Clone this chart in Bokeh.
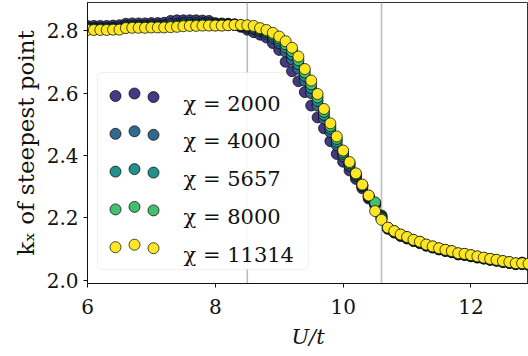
from bokeh.plotting import figure
from bokeh.models import Range1d, Span, BoxAnnotation, Label, FixedTicker, PrintfTickFormatter
from bokeh.embed import file_html
from bokeh.resources import INLINE

# ---------------- data ----------------
U = [6.0, 6.1, 6.2, 6.3, 6.4, 6.5, 6.6, 6.7, 6.8, 6.9,
     7.0, 7.1, 7.2, 7.3, 7.4, 7.5, 7.6, 7.7, 7.8, 7.9,
     8.0, 8.1, 8.2, 8.3, 8.4, 8.5, 8.6, 8.7, 8.8, 8.9,
     9.0, 9.1, 9.2, 9.3, 9.4, 9.5, 9.6, 9.7, 9.8, 9.9,
     10.0, 10.1, 10.2, 10.3, 10.4, 10.5, 10.6, 10.7, 10.8, 10.9,
     11.0, 11.1, 11.2, 11.3, 11.4, 11.5, 11.6, 11.7, 11.8, 11.9,
     12.0, 12.1, 12.2, 12.3, 12.4, 12.5, 12.6, 12.7, 12.8, 12.9]

kx_2000 = [2.815, 2.815, 2.815, 2.815, 2.816, 2.817, 2.822, 2.823, 2.823, 2.823,
           2.824, 2.824, 2.825, 2.831, 2.833, 2.833, 2.833, 2.833, 2.832, 2.831,
           2.824, 2.823, 2.822, 2.820, 2.812, 2.803, 2.795, 2.787, 2.778, 2.760,
           2.738, 2.700, 2.670, 2.638, 2.603, 2.560, 2.522, 2.487, 2.446, 2.405,
           2.380, 2.352, 2.325, 2.295, 2.262, 2.241, 2.208, 2.165, 2.153, 2.142,
           2.134, 2.126, 2.119, 2.111, 2.105, 2.099, 2.094, 2.090, 2.083, 2.081,
           2.077, 2.073, 2.070, 2.066, 2.063, 2.059, 2.056, 2.053, 2.057, 2.051]

kx_4000 = [2.808, 2.808, 2.808, 2.808, 2.809, 2.810, 2.815, 2.816, 2.816, 2.816,
           2.817, 2.817, 2.817, 2.821, 2.822, 2.824, 2.824, 2.824, 2.824, 2.824,
           2.820, 2.820, 2.820, 2.819, 2.815, 2.810, 2.805, 2.798, 2.790, 2.777,
           2.760, 2.733, 2.708, 2.678, 2.640, 2.600, 2.560, 2.518, 2.475, 2.433,
           2.398, 2.366, 2.334, 2.301, 2.267, 2.244, 2.204, 2.167, 2.155, 2.144,
           2.136, 2.127, 2.121, 2.112, 2.106, 2.100, 2.095, 2.091, 2.084, 2.082,
           2.078, 2.074, 2.070, 2.066, 2.063, 2.059, 2.056, 2.052, 2.052, 2.050]

kx_5657 = [2.806, 2.806, 2.806, 2.806, 2.807, 2.807, 2.812, 2.813, 2.813, 2.813,
           2.814, 2.814, 2.815, 2.817, 2.818, 2.820, 2.820, 2.820, 2.821, 2.821,
           2.818, 2.818, 2.819, 2.819, 2.816, 2.813, 2.809, 2.802, 2.795, 2.783,
           2.768, 2.746, 2.723, 2.693, 2.655, 2.616, 2.575, 2.530, 2.486, 2.444,
           2.405, 2.371, 2.338, 2.303, 2.269, 2.247, 2.201, 2.168, 2.156, 2.145,
           2.137, 2.128, 2.122, 2.113, 2.107, 2.101, 2.096, 2.092, 2.085, 2.083,
           2.079, 2.075, 2.071, 2.067, 2.064, 2.060, 2.057, 2.053, 2.053, 2.051]

kx_8000 = [2.804, 2.804, 2.804, 2.804, 2.805, 2.805, 2.810, 2.811, 2.811, 2.811,
           2.812, 2.812, 2.812, 2.814, 2.815, 2.817, 2.818, 2.818, 2.818, 2.818,
           2.817, 2.817, 2.818, 2.818, 2.817, 2.815, 2.812, 2.805, 2.798, 2.788,
           2.775, 2.756, 2.734, 2.705, 2.666, 2.628, 2.586, 2.540, 2.494, 2.453,
           2.411, 2.375, 2.340, 2.305, 2.270, 2.250, 2.198, 2.168, 2.157, 2.146,
           2.138, 2.129, 2.123, 2.114, 2.108, 2.102, 2.097, 2.093, 2.086, 2.084,
           2.080, 2.076, 2.072, 2.068, 2.065, 2.061, 2.058, 2.054, 2.054, 2.052]

kx_11314 = [2.802, 2.802, 2.802, 2.802, 2.803, 2.803, 2.808, 2.809, 2.809, 2.809,
            2.810, 2.810, 2.810, 2.811, 2.812, 2.814, 2.815, 2.815, 2.816, 2.816,
            2.816, 2.816, 2.817, 2.818, 2.818, 2.817, 2.815, 2.808, 2.802, 2.793,
            2.781, 2.766, 2.745, 2.717, 2.677, 2.640, 2.597, 2.549, 2.503, 2.461,
            2.416, 2.379, 2.343, 2.307, 2.272, 2.222, 2.194, 2.169, 2.158, 2.147,
            2.139, 2.130, 2.124, 2.115, 2.109, 2.103, 2.098, 2.094, 2.087, 2.085,
            2.081, 2.077, 2.073, 2.069, 2.066, 2.062, 2.059, 2.055, 2.055, 2.053]

chi_labels = ["2000", "4000", "5657", "8000", "11314"]
series = [kx_2000, kx_4000, kx_5657, kx_8000, kx_11314]
colors = ["#443983", "#31688e", "#21918c", "#44bf70", "#fde725"]
vlines = [8.5, 10.6]
x_ticks = [6, 8, 10, 12]
y_ticks = [2.0, 2.2, 2.4, 2.6, 2.8]

# ---------------- layout ----------------
X0, X1 = 6.0, 12.9
Y0, Y1 = 1.99, 2.89
L, T = 87, 2
FW, FH = 441, 281
FONT = "DejaVu Serif"
FS = "20px"

p = figure(frame_width=FW, frame_height=FH,
           x_range=Range1d(X0, X1), y_range=Range1d(Y0, Y1),
           output_backend="svg", toolbar_location=None,
           min_border_left=L, min_border_right=0,
           min_border_top=T, min_border_bottom=356 - T - FH)
p.background_fill_color = "white"
p.border_fill_color = "white"
p.outline_line_color = "#333333"
p.outline_line_width = 1
p.xgrid.visible = False
p.ygrid.visible = False

for ax in (p.xaxis, p.yaxis):
    ax.major_label_text_font = FONT
    ax.major_label_text_font_size = FS
    ax.major_label_text_color = "#111111"
    ax.axis_line_color = "#111111"
    ax.major_tick_line_color = "#111111"
    ax.major_tick_out = 4
    ax.major_tick_in = 0
    ax.minor_tick_out = 0
    ax.minor_tick_in = 0
    ax.axis_label_text_font = FONT
    ax.axis_label_text_color = "#111111"

p.xaxis.ticker = FixedTicker(ticks=x_ticks)
p.yaxis.ticker = FixedTicker(ticks=y_ticks)
p.xaxis.formatter = PrintfTickFormatter(format="%d")
p.yaxis.formatter = PrintfTickFormatter(format="%.1f")
p.xaxis.major_label_standoff = 11
p.yaxis.major_label_standoff = 5

p.xaxis.axis_label = "U/t"
p.xaxis.axis_label_text_font_size = "21px"
p.xaxis.axis_label_text_font_style = "italic"
p.xaxis.axis_label_standoff = 8

p.yaxis.axis_label = "k\u2093 of steepest point"
p.yaxis.axis_label_text_font_size = "23px"
p.yaxis.axis_label_text_font_style = "normal"
p.yaxis.axis_label_standoff = 5

for loc in vlines:
    p.add_layout(Span(location=loc, dimension="height", line_color="#bdbdbd",
                      line_width=1.6, level="image"))

# ---------------- legend frame (under the data, above the vertical lines) ----------------
def sx2x(sx):
    return X0 + (sx - L) / FW * (X1 - X0)

def sy2y(sy):
    return Y1 - (sy - T) / FH * (Y1 - Y0)

p.add_layout(BoxAnnotation(left=sx2x(97), right=sx2x(308), top=sy2y(72), bottom=sy2y(269),
                           fill_color="white", fill_alpha=0.9, line_color="#cccccc",
                           line_width=1, border_radius=5, level="underlay"))

for vals, c in zip(series, colors):
    p.scatter(U, vals, size=11, fill_color=c, line_color="black", line_width=0.7)

row0, drow = 95.5, 37.8
dot_sx = [115, 134, 153]
dot_dy = [0.0, -2.5, 1.0]
for i, (lab, c) in enumerate(zip(chi_labels, colors)):
    cy = row0 + i * drow
    p.scatter([sx2x(s) for s in dot_sx], [sy2y(cy + d) for d in dot_dy], size=11,
              fill_color=c, line_color="black", line_width=0.7, level="overlay")
    p.add_layout(Label(x=sx2x(183), y=sy2y(cy + 7.5), text="\u03c7 = " + lab,
                       text_font=FONT, text_font_size="21px", text_color="#111111",
                       text_baseline="alphabetic", text_align="left", level="overlay"))

open("out.html", "w").write(file_html(p, INLINE))
